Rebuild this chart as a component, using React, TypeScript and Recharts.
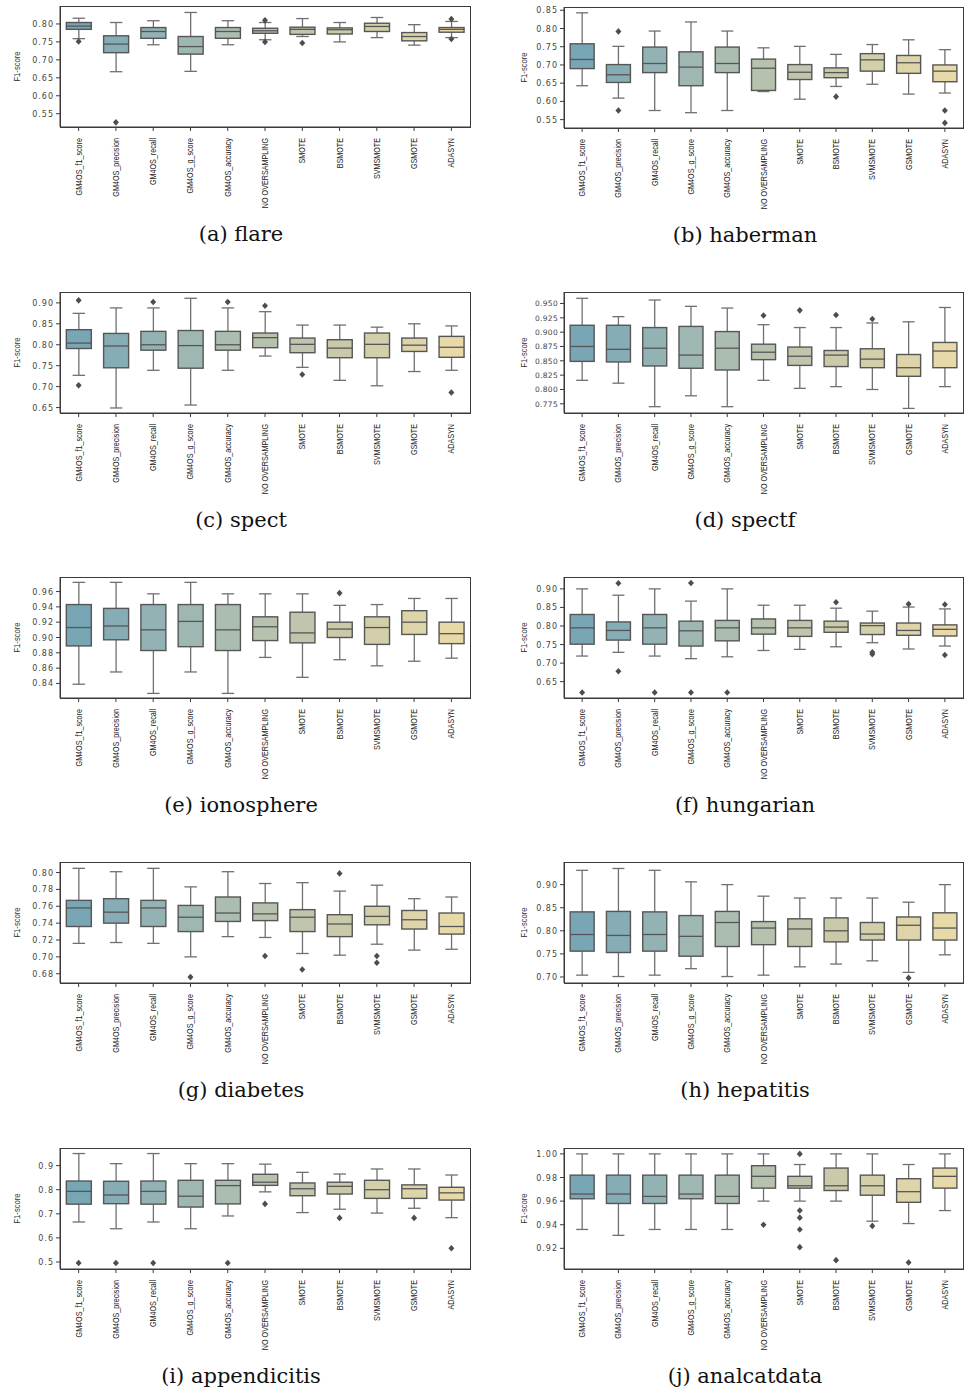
import React from 'react';
import { ComposedChart, Bar, Scatter, XAxis, YAxis } from 'recharts';

const methods = [
  'GM4OS_f1_score',
  'GM4OS_precision',
  'GM4OS_recall',
  'GM4OS_g_score',
  'GM4OS_accuracy',
  'NO OVERSAMPLING',
  'SMOTE',
  'BSMOTE',
  'SVMSMOTE',
  'GSMOTE',
  'ADASYN',
];

const boxColors = [
  '#78a6b5', '#86adb6', '#93b2b4', '#9fb7b2', '#abbcb0', '#b6c2ae',
  '#c0c6ad', '#cacaab', '#d3cfaa', '#ddd4a9', '#e7daa8',
];

// each box: [lower whisker, q1, median, q3, upper whisker]
const flareBoxes = [
  [0.759, 0.785, 0.794, 0.804, 0.816],
  [0.667, 0.72, 0.744, 0.767, 0.804],
  [0.742, 0.76, 0.779, 0.79, 0.809],
  [0.668, 0.716, 0.737, 0.765, 0.832],
  [0.742, 0.76, 0.779, 0.79, 0.809],
  [0.756, 0.774, 0.781, 0.788, 0.804],
  [0.765, 0.771, 0.785, 0.791, 0.815],
  [0.75, 0.772, 0.784, 0.789, 0.804],
  [0.762, 0.779, 0.793, 0.802, 0.818],
  [0.741, 0.753, 0.765, 0.776, 0.798],
  [0.762, 0.777, 0.785, 0.79, 0.807],
];
const flareOutliers = [[0.751], [0.526], [], [], [], [0.81, 0.75], [0.747], [], [], [], [0.814, 0.758]];
const flareTicks = [0.55, 0.6, 0.65, 0.7, 0.75, 0.8];

const habermanBoxes = [
  [0.643, 0.69, 0.715, 0.758, 0.843],
  [0.609, 0.652, 0.673, 0.701, 0.751],
  [0.575, 0.679, 0.704, 0.749, 0.793],
  [0.569, 0.643, 0.694, 0.736, 0.818],
  [0.575, 0.679, 0.704, 0.749, 0.793],
  [0.627, 0.63, 0.691, 0.716, 0.747],
  [0.606, 0.66, 0.68, 0.701, 0.751],
  [0.641, 0.665, 0.679, 0.692, 0.729],
  [0.647, 0.683, 0.714, 0.731, 0.756],
  [0.62, 0.677, 0.706, 0.726, 0.769],
  [0.623, 0.654, 0.683, 0.7, 0.742],
];
const habermanOutliers = [[], [0.792, 0.575], [], [], [], [], [], [0.613], [], [], [0.575, 0.541]];
const habermanTicks = [0.55, 0.6, 0.65, 0.7, 0.75, 0.8, 0.85];

const spectBoxes = [
  [0.727, 0.791, 0.804, 0.836, 0.875],
  [0.649, 0.745, 0.797, 0.827, 0.888],
  [0.739, 0.787, 0.8, 0.832, 0.888],
  [0.656, 0.744, 0.798, 0.834, 0.911],
  [0.739, 0.787, 0.8, 0.832, 0.888],
  [0.773, 0.793, 0.817, 0.828, 0.879],
  [0.746, 0.781, 0.801, 0.816, 0.847],
  [0.715, 0.769, 0.792, 0.812, 0.847],
  [0.702, 0.769, 0.801, 0.828, 0.842],
  [0.736, 0.784, 0.799, 0.816, 0.85],
  [0.739, 0.77, 0.794, 0.82, 0.845],
];
const spectOutliers = [[0.906, 0.703], [], [0.902], [], [0.902], [0.893], [0.729], [], [], [], [0.686]];
const spectTicks = [0.65, 0.7, 0.75, 0.8, 0.85, 0.9];

const spectfBoxes = [
  [0.816, 0.849, 0.875, 0.912, 0.959],
  [0.811, 0.848, 0.87, 0.912, 0.927],
  [0.77, 0.841, 0.872, 0.908, 0.956],
  [0.789, 0.837, 0.86, 0.91, 0.945],
  [0.77, 0.834, 0.872, 0.901, 0.942],
  [0.816, 0.852, 0.865, 0.879, 0.913],
  [0.802, 0.842, 0.858, 0.874, 0.908],
  [0.805, 0.84, 0.86, 0.868, 0.908],
  [0.8, 0.838, 0.853, 0.871, 0.916],
  [0.767, 0.823, 0.838, 0.861, 0.918],
  [0.805, 0.838, 0.867, 0.882, 0.943],
];
const spectfOutliers = [[], [], [], [], [], [0.929], [0.938], [0.93], [0.923], [], []];
const spectfTicks = [0.775, 0.8, 0.825, 0.85, 0.875, 0.9, 0.925, 0.95];

const ionosphereBoxes = [
  [0.839, 0.889, 0.913, 0.943, 0.972],
  [0.855, 0.897, 0.915, 0.938, 0.972],
  [0.827, 0.883, 0.91, 0.943, 0.957],
  [0.855, 0.888, 0.921, 0.943, 0.972],
  [0.827, 0.883, 0.91, 0.943, 0.957],
  [0.874, 0.896, 0.914, 0.927, 0.957],
  [0.848, 0.893, 0.906, 0.933, 0.957],
  [0.871, 0.9, 0.911, 0.92, 0.942],
  [0.863, 0.891, 0.913, 0.927, 0.943],
  [0.869, 0.904, 0.92, 0.935, 0.951],
  [0.873, 0.892, 0.905, 0.92, 0.951],
];
const ionosphereOutliers = [[], [], [], [], [], [], [], [0.958], [], [], []];
const ionosphereTicks = [0.84, 0.86, 0.88, 0.9, 0.92, 0.94, 0.96];

const hungarianBoxes = [
  [0.719, 0.751, 0.795, 0.831, 0.9],
  [0.729, 0.762, 0.788, 0.811, 0.883],
  [0.719, 0.751, 0.795, 0.831, 0.9],
  [0.712, 0.746, 0.787, 0.813, 0.867],
  [0.717, 0.76, 0.795, 0.815, 0.9],
  [0.734, 0.778, 0.795, 0.819, 0.856],
  [0.737, 0.772, 0.795, 0.815, 0.856],
  [0.744, 0.783, 0.797, 0.813, 0.848],
  [0.755, 0.777, 0.801, 0.808, 0.84],
  [0.738, 0.775, 0.788, 0.808, 0.851],
  [0.746, 0.773, 0.791, 0.803, 0.846],
];
const hungarianOutliers = [[0.621], [0.915, 0.678], [0.621], [0.916, 0.621], [0.621], [], [], [0.864], [0.729, 0.724], [0.859], [0.858, 0.722]];
const hungarianTicks = [0.65, 0.7, 0.75, 0.8, 0.85, 0.9];

const diabetesBoxes = [
  [0.716, 0.736, 0.758, 0.767, 0.805],
  [0.717, 0.74, 0.753, 0.769, 0.801],
  [0.716, 0.736, 0.758, 0.767, 0.805],
  [0.7, 0.73, 0.747, 0.761, 0.783],
  [0.724, 0.742, 0.752, 0.771, 0.801],
  [0.723, 0.743, 0.751, 0.764, 0.787],
  [0.704, 0.73, 0.747, 0.756, 0.788],
  [0.702, 0.724, 0.739, 0.75, 0.778],
  [0.715, 0.738, 0.748, 0.76, 0.785],
  [0.708, 0.733, 0.744, 0.755, 0.769],
  [0.709, 0.727, 0.736, 0.752, 0.771],
];
const diabetesOutliers = [[], [], [], [0.676], [], [0.701], [0.685], [0.799], [0.701, 0.693], [], []];
const diabetesTicks = [0.68, 0.7, 0.72, 0.74, 0.76, 0.78, 0.8];

const hepatitisBoxes = [
  [0.704, 0.756, 0.792, 0.841, 0.931],
  [0.701, 0.753, 0.79, 0.842, 0.935],
  [0.704, 0.756, 0.792, 0.841, 0.931],
  [0.718, 0.745, 0.788, 0.833, 0.906],
  [0.701, 0.766, 0.818, 0.842, 0.9],
  [0.704, 0.77, 0.806, 0.82, 0.875],
  [0.722, 0.766, 0.804, 0.826, 0.871],
  [0.728, 0.776, 0.8, 0.828, 0.871],
  [0.735, 0.78, 0.793, 0.818, 0.871],
  [0.71, 0.78, 0.812, 0.83, 0.862],
  [0.748, 0.78, 0.806, 0.839, 0.9],
];
const hepatitisOutliers = [[], [], [], [], [], [], [], [], [], [0.698], []];
const hepatitisTicks = [0.7, 0.75, 0.8, 0.85, 0.9];

const appendicitisBoxes = [
  [0.666, 0.74, 0.793, 0.836, 0.95],
  [0.638, 0.742, 0.778, 0.835, 0.908],
  [0.666, 0.74, 0.793, 0.836, 0.95],
  [0.638, 0.728, 0.773, 0.839, 0.908],
  [0.691, 0.741, 0.817, 0.839, 0.908],
  [0.791, 0.818, 0.831, 0.864, 0.906],
  [0.705, 0.775, 0.804, 0.828, 0.872],
  [0.719, 0.782, 0.814, 0.831, 0.865],
  [0.703, 0.764, 0.8, 0.839, 0.886],
  [0.723, 0.764, 0.804, 0.82, 0.886],
  [0.684, 0.757, 0.787, 0.81, 0.861],
];
const appendicitisOutliers = [[0.496], [0.496], [0.496], [], [0.496], [0.741], [], [0.683], [], [0.683], [0.557]];
const appendicitisTicks = [0.5, 0.6, 0.7, 0.8, 0.9];

const analcatdataBoxes = [
  [0.936, 0.962, 0.966, 0.982, 1.0],
  [0.931, 0.958, 0.966, 0.982, 1.0],
  [0.936, 0.958, 0.964, 0.982, 1.0],
  [0.936, 0.962, 0.966, 0.982, 1.0],
  [0.936, 0.958, 0.964, 0.982, 1.0],
  [0.96, 0.971, 0.981, 0.99, 1.0],
  [0.96, 0.971, 0.973, 0.981, 0.991],
  [0.96, 0.969, 0.973, 0.988, 1.0],
  [0.943, 0.965, 0.973, 0.982, 1.0],
  [0.941, 0.959, 0.968, 0.979, 0.991],
  [0.952, 0.971, 0.981, 0.988, 1.0],
];
const analcatdataOutliers = [[], [], [], [], [], [0.94], [1.0, 0.952, 0.946, 0.936, 0.921], [0.91], [0.939], [0.908], []];
const analcatdataTicks = [0.92, 0.94, 0.96, 0.98, 1.0];

const AXIS = '#3a3a3a';
const EDGE = '#565656';
const WHISKER = '#707070';

function BoxShape(props: any) {
  const { x, y, width, height, payload, index } = props;
  const [lo, q1, med, q3, hi] = payload.stats;
  const px = (v: number) => y + ((hi - v) / (hi - lo)) * height;
  const cx = x + width / 2;
  const capHalf = width / 4;
  const yq1 = px(q1);
  const yq3 = px(q3);
  const ymed = px(med);
  const yhi = y;
  const ylo = y + height;
  return (
    <g>
      <line x1={cx} x2={cx} y1={yhi} y2={yq3} stroke={WHISKER} strokeWidth={1.3} />
      <line x1={cx} x2={cx} y1={yq1} y2={ylo} stroke={WHISKER} strokeWidth={1.3} />
      <line x1={cx - capHalf} x2={cx + capHalf} y1={yhi} y2={yhi} stroke={WHISKER} strokeWidth={1.3} />
      <line x1={cx - capHalf} x2={cx + capHalf} y1={ylo} y2={ylo} stroke={WHISKER} strokeWidth={1.3} />
      <rect
        x={x}
        y={yq3}
        width={width}
        height={Math.max(yq1 - yq3, 0.5)}
        fill={boxColors[index]}
        stroke={EDGE}
        strokeWidth={1.4}
      />
      <line x1={x} x2={x + width} y1={ymed} y2={ymed} stroke={EDGE} strokeWidth={1.3} />
    </g>
  );
}

const Diamond = (props: any) => {
  const { cx, cy } = props;
  if (cx == null || cy == null) return null;
  return <polygon points={`${cx},${cy - 3.3} ${cx + 3},${cy} ${cx},${cy + 3.3} ${cx - 3},${cy}`} fill="#4d4d4d" />;
};

const MethodTick = (props: any) => {
  const { x, y, payload } = props;
  return (
    <text
      transform={`translate(${x + 3},${y + 5}) rotate(-90) scale(0.8,1)`}
      textAnchor="end"
      fontFamily="Liberation Sans, Arial, sans-serif"
      fontSize={9}
      fill="#222"
    >
      {payload.value}
    </text>
  );
};

const makeValueTick = (decimals: number, spacing: number, size: number) => (props: any) => {
  const { x, y, payload } = props;
  return (
    <text
      x={x}
      y={y + 3}
      textAnchor="end"
      fontFamily="DejaVu Sans, sans-serif"
      fontSize={size}
      letterSpacing={spacing}
      fill="#444"
    >
      {Number(payload.value).toFixed(decimals)}
    </text>
  );
};

const YLabel = (props: any) => {
  const { viewBox, dx } = props;
  const { x, y, height } = viewBox;
  return (
    <text
      transform={`translate(${x + dx},${y + height / 2}) rotate(-90) scale(0.85,1)`}
      textAnchor="middle"
      fontFamily="Liberation Sans, Arial, sans-serif"
      fontSize={9}
      fill="#333"
    >
      F1-score
    </text>
  );
};

interface PanelProps {
  boxes: number[][];
  outliers: number[][];
  ticks: number[];
  domain: [number, number];
  decimals: number;
  side: 'left' | 'right';
  frameTop: number;
  caption: string;
  tickSpacing?: number;
  tickSize?: number;
}

const PLOT_H = 121;

function Panel({ boxes, outliers, ticks, domain, decimals, side, frameTop, caption, tickSpacing = 1, tickSize = 8 }: PanelProps) {
  const left = side === 'left' ? 0 : 490;
  const width = side === 'left' ? 480 : 486;
  const axisW = side === 'left' ? 60 : 74;
  const marginRight = side === 'left' ? 10 : 13;
  const labelDx = side === 'left' ? 20 : 37;
  const capX = side === 'left' ? 241 : 745;

  const data = methods.map((name, i) => ({
    name,
    range: [boxes[i][0], boxes[i][4]],
    stats: boxes[i],
  }));
  const points = outliers.flatMap((vals, i) => vals.map((v) => ({ name: methods[i], v })));

  return (
    <>
      <div style={{ position: 'absolute', left, top: frameTop - 4 }}>
        <ComposedChart
          width={width}
          height={4 + PLOT_H + 90}
          data={data}
          margin={{ top: 4, right: marginRight, bottom: 0, left: 0 }}
          barCategoryGap="17%"
        >
          <XAxis
            dataKey="name"
            allowDuplicatedCategory={false}
            interval={0}
            height={90}
            tickSize={4}
            tickLine={{ stroke: AXIS }}
            axisLine={{ stroke: AXIS }}
            tick={<MethodTick />}
          />
          <YAxis
            type="number"
            domain={domain}
            ticks={ticks}
            interval={0}
            allowDataOverflow
            width={axisW}
            tickSize={4}
            tickLine={{ stroke: AXIS }}
            axisLine={{ stroke: AXIS }}
            tick={makeValueTick(decimals, tickSpacing, tickSize)}
            label={<YLabel dx={labelDx} />}
          />
          <Bar dataKey="range" shape={<BoxShape />} isAnimationActive={false} />
          <Scatter data={points} dataKey="v" shape={<Diamond />} isAnimationActive={false} />
        </ComposedChart>
      </div>
      <div
        style={{
          position: 'absolute',
          left: left + axisW,
          top: frameTop,
          width: width - axisW - marginRight - 1,
          height: PLOT_H - 1,
          border: `1px solid ${AXIS}`,
          pointerEvents: 'none',
        }}
      />
      <div
        style={{
          position: 'absolute',
          left: capX - 150,
          width: 300,
          top: frameTop + 216,
          textAlign: 'center',
          fontFamily: 'DejaVu Serif, serif',
          fontSize: 21,
          color: '#111',
        }}
      >
        {caption}
      </div>
    </>
  );
}

export default function App() {
  return (
    <div style={{ position: 'absolute', left: 0, top: 0, width: 976, height: 1391, background: '#fff' }}>
      <Panel boxes={flareBoxes} outliers={flareOutliers} ticks={flareTicks} domain={[0.513, 0.85]} decimals={2} side="left" frameTop={6} caption="(a) flare" />
      <Panel boxes={habermanBoxes} outliers={habermanOutliers} ticks={habermanTicks} domain={[0.527, 0.859]} decimals={2} side="right" frameTop={7} caption="(b) haberman" />
      <Panel boxes={spectBoxes} outliers={spectOutliers} ticks={spectTicks} domain={[0.637, 0.926]} decimals={2} side="left" frameTop={292} caption="(c) spect" />
      <Panel boxes={spectfBoxes} outliers={spectfOutliers} ticks={spectfTicks} domain={[0.759, 0.97]} decimals={3} side="right" frameTop={292} caption="(d) spectf" tickSpacing={0.3} tickSize={7.5} />
      <Panel boxes={ionosphereBoxes} outliers={ionosphereOutliers} ticks={ionosphereTicks} domain={[0.821, 0.979]} decimals={2} side="left" frameTop={577} caption="(e) ionosphere" />
      <Panel boxes={hungarianBoxes} outliers={hungarianOutliers} ticks={hungarianTicks} domain={[0.606, 0.932]} decimals={2} side="right" frameTop={577} caption="(f) hungarian" />
      <Panel boxes={diabetesBoxes} outliers={diabetesOutliers} ticks={diabetesTicks} domain={[0.669, 0.8125]} decimals={2} side="left" frameTop={862} caption="(g) diabetes" />
      <Panel boxes={hepatitisBoxes} outliers={hepatitisOutliers} ticks={hepatitisTicks} domain={[0.687, 0.949]} decimals={2} side="right" frameTop={862} caption="(h) hepatitis" />
      <Panel boxes={appendicitisBoxes} outliers={appendicitisOutliers} ticks={appendicitisTicks} domain={[0.471, 0.973]} decimals={1} side="left" frameTop={1148} caption="(i) appendicitis" />
      <Panel boxes={analcatdataBoxes} outliers={analcatdataOutliers} ticks={analcatdataTicks} domain={[0.9025, 1.005]} decimals={2} side="right" frameTop={1148} caption="(j) analcatdata" />
    </div>
  );
}
